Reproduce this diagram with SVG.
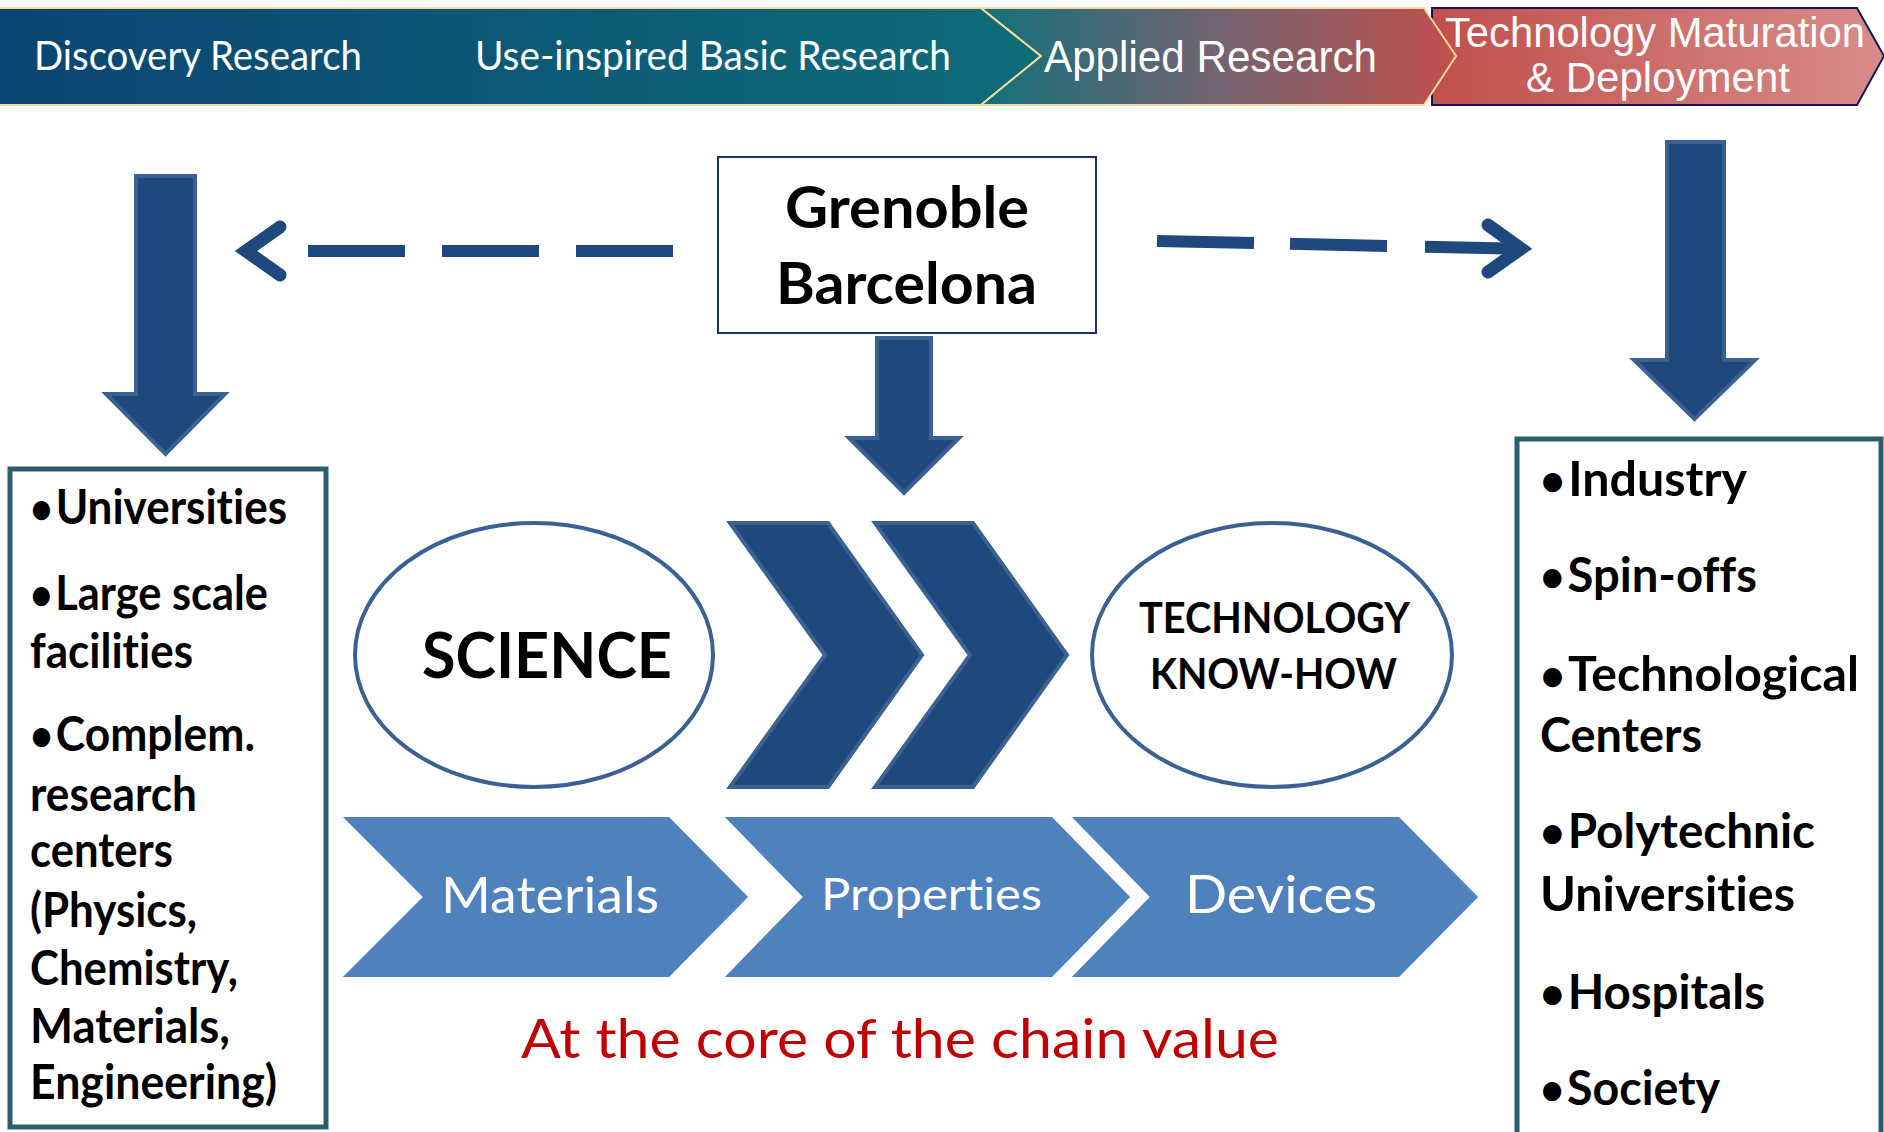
<svg xmlns="http://www.w3.org/2000/svg" width="1884" height="1132" viewBox="0 0 1884 1132">
<defs>
<linearGradient id="g1" x1="0" y1="0" x2="1" y2="0">
<stop offset="0" stop-color="#0a4472"/><stop offset="1" stop-color="#0f6d79"/>
</linearGradient>
<linearGradient id="g2" x1="0" y1="0" x2="1" y2="0">
<stop offset="0" stop-color="#12707b"/><stop offset="0.5" stop-color="#736370"/><stop offset="1" stop-color="#c0504d"/>
</linearGradient>
<linearGradient id="g3" x1="0" y1="0" x2="1" y2="0">
<stop offset="0" stop-color="#c0504d"/><stop offset="1" stop-color="#d88c8a"/>
</linearGradient>
<style>
text{font-variant-ligatures:none;}
.cal{font-family:Lato,'Open Sans',sans-serif;}
.ari{font-family:'Liberation Sans',Arial,sans-serif;}
.w{fill:#ffffff;}
.b{font-weight:700;fill:#000000;}
.big{fill:#1f497d;stroke:#3a6190;stroke-width:4;stroke-linejoin:miter;}
.lc{fill:#4f81bd;stroke:#ffffff;stroke-width:4;}
.ell{fill:#ffffff;stroke:#3a6193;stroke-width:4;}
.box{fill:#ffffff;stroke:#2a5e6d;stroke-width:5;}
.dash{stroke:#1f497d;stroke-width:12;fill:none;}
.head{stroke:#1f497d;stroke-width:13;fill:none;stroke-linecap:round;stroke-linejoin:miter;}
.bl{font-size:48px;}
.bu{font-size:43px;}
</style>
</defs>
<rect width="1884" height="1132" fill="#ffffff"/>

<g id="banner">
<g id="stage-discovery">
<polygon points="-5,8 981,8 1041,56 981,105 -5,105" fill="url(#g1)" stroke="#f5d79a" stroke-width="2"/>
<text class="cal w" x="34" y="70" font-size="40" textLength="328" lengthAdjust="spacingAndGlyphs">Discovery Research</text>
<text class="cal w" x="475" y="70" font-size="40" textLength="476" lengthAdjust="spacingAndGlyphs">Use-inspired Basic Research</text>
</g>
<g id="stage-deploy">
<polygon points="1432,8 1857,8 1884,56 1857,105 1432,105" fill="url(#g3)" stroke="#14145e" stroke-width="2"/>
<text class="ari w" x="1445" y="47" font-size="42" textLength="420" lengthAdjust="spacingAndGlyphs">Technology Maturation</text>
<text class="ari w" x="1526" y="92" font-size="42" textLength="264" lengthAdjust="spacingAndGlyphs">&amp; Deployment</text>
</g>
<g id="stage-applied">
<polygon points="981,8 1424,8 1456,56 1424,105 981,105 1041,56" fill="url(#g2)" stroke="#f5d79a" stroke-width="2"/>
<text class="ari w" x="1044" y="72" font-size="44" textLength="333" lengthAdjust="spacingAndGlyphs">Applied Research</text>
</g>
</g>

<g id="connectors">
<polygon class="big" points="136,176 195,176 195,394 225,394 165.5,454 106,394 136,394"/>
<polygon class="big" points="877,338 931,338 931,438 959,438 904,493 849,438 877,438"/>
<polygon class="big" points="1667,142 1724,142 1724,360 1755,360 1694.5,419 1634,360 1667,360"/>
<line class="dash" x1="308" y1="251" x2="405" y2="251"/>
<line class="dash" x1="442" y1="251" x2="539" y2="251"/>
<line class="dash" x1="576" y1="251" x2="673" y2="251"/>
<polyline class="head" points="280,227 246,251 280,275"/>
<line class="dash" x1="1157" y1="241" x2="1254" y2="243.1"/>
<line class="dash" x1="1290" y1="243.8" x2="1387" y2="245.9"/>
<line class="dash" x1="1425" y1="246.7" x2="1519" y2="248.7"/>
<polyline class="head" points="1488,225 1521,248.7 1488,272"/>
</g>

<g id="node-grenoble">
<rect x="718" y="157" width="378" height="176" fill="#ffffff" stroke="#1f2f66" stroke-width="2"/>
<text class="cal b" x="785" y="228" font-size="57" textLength="244" lengthAdjust="spacingAndGlyphs">Grenoble</text>
<text class="cal b" x="776" y="304" font-size="57" textLength="261" lengthAdjust="spacingAndGlyphs">Barcelona</text>
</g>

<g id="node-science">
<ellipse class="ell" cx="534" cy="655" rx="179" ry="132"/>
<text class="cal b" x="422" y="678" font-size="64" textLength="250" lengthAdjust="spacingAndGlyphs">SCIENCE</text>
</g>

<g id="node-chevrons">
<polygon class="big" points="730,523 828,523 922,655 828,787 730,787 825,655"/>
<polygon class="big" points="875,523 973,523 1067,655 973,787 875,787 970,655"/>
</g>

<g id="node-technology">
<ellipse class="ell" cx="1272" cy="655" rx="180" ry="132"/>
<text class="cal b" x="1139" y="633" font-size="42" textLength="271" lengthAdjust="spacingAndGlyphs">TECHNOLOGY</text>
<text class="cal b" x="1150" y="689" font-size="42" textLength="247" lengthAdjust="spacingAndGlyphs">KNOW-HOW</text>
</g>

<g id="node-materials">
<polygon class="lc" points="338,815 670,815 751,897 670,979 338,979 420,897"/>
<text class="cal w" x="441" y="913" font-size="50" textLength="218" lengthAdjust="spacingAndGlyphs">Materials</text>
</g>
<g id="node-properties">
<polygon class="lc" points="720,815 1053,815 1133,897 1053,979 720,979 800,897"/>
<text class="cal w" x="821" y="910" font-size="45" textLength="221" lengthAdjust="spacingAndGlyphs">Properties</text>
</g>
<g id="node-devices">
<polygon class="lc" points="1067,815 1400,815 1481,897 1400,979 1067,979 1147,897"/>
<text class="cal w" x="1185" y="913" font-size="53" textLength="192" lengthAdjust="spacingAndGlyphs">Devices</text>
</g>

<g id="caption">
<text class="cal" x="521" y="1058" font-size="55" fill="#c00000" textLength="758" lengthAdjust="spacingAndGlyphs">At the core of the chain value</text>
</g>

<g id="node-left">
<rect class="box" x="10" y="469" width="316" height="658"/>
<text class="cal b bl" x="30" y="524" textLength="257" lengthAdjust="spacingAndGlyphs"><tspan class="bu">•</tspan><tspan dx="3">Universities</tspan></text>
<text class="cal b bl" x="30" y="610" textLength="238" lengthAdjust="spacingAndGlyphs"><tspan class="bu">•</tspan><tspan dx="3">Large scale</tspan></text>
<text class="cal b bl" x="30" y="668" textLength="163" lengthAdjust="spacingAndGlyphs">facilities</text>
<text class="cal b bl" x="30" y="751" textLength="225" lengthAdjust="spacingAndGlyphs"><tspan class="bu">•</tspan><tspan dx="3">Complem.</tspan></text>
<text class="cal b bl" x="30" y="811" textLength="167" lengthAdjust="spacingAndGlyphs">research</text>
<text class="cal b bl" x="30" y="867" textLength="143" lengthAdjust="spacingAndGlyphs">centers</text>
<text class="cal b bl" x="30" y="927" textLength="167" lengthAdjust="spacingAndGlyphs">(Physics,</text>
<text class="cal b bl" x="30" y="985" textLength="208" lengthAdjust="spacingAndGlyphs">Chemistry,</text>
<text class="cal b bl" x="30" y="1043" textLength="200" lengthAdjust="spacingAndGlyphs">Materials,</text>
<text class="cal b bl" x="30" y="1099" textLength="247" lengthAdjust="spacingAndGlyphs">Engineering)</text>
</g>

<g id="node-right">
<rect class="box" x="1517" y="439" width="364" height="720"/>
<text class="cal b bl" x="1540" y="496" textLength="207" lengthAdjust="spacingAndGlyphs"><tspan class="bu">•</tspan><tspan dx="3">Industry</tspan></text>
<text class="cal b bl" x="1540" y="592" textLength="217" lengthAdjust="spacingAndGlyphs"><tspan class="bu">•</tspan><tspan dx="3">Spin-offs</tspan></text>
<text class="cal b bl" x="1540" y="691" textLength="319" lengthAdjust="spacingAndGlyphs"><tspan class="bu">•</tspan><tspan dx="3">Technological</tspan></text>
<text class="cal b bl" x="1540" y="752" textLength="162" lengthAdjust="spacingAndGlyphs">Centers</text>
<text class="cal b bl" x="1540" y="848" textLength="275" lengthAdjust="spacingAndGlyphs"><tspan class="bu">•</tspan><tspan dx="3">Polytechnic</tspan></text>
<text class="cal b bl" x="1540" y="911" textLength="255" lengthAdjust="spacingAndGlyphs">Universities</text>
<text class="cal b bl" x="1540" y="1009" textLength="225" lengthAdjust="spacingAndGlyphs"><tspan class="bu">•</tspan><tspan dx="3">Hospitals</tspan></text>
<text class="cal b bl" x="1540" y="1105" textLength="180" lengthAdjust="spacingAndGlyphs"><tspan class="bu">•</tspan><tspan dx="3">Society</tspan></text>
</g>
</svg>
